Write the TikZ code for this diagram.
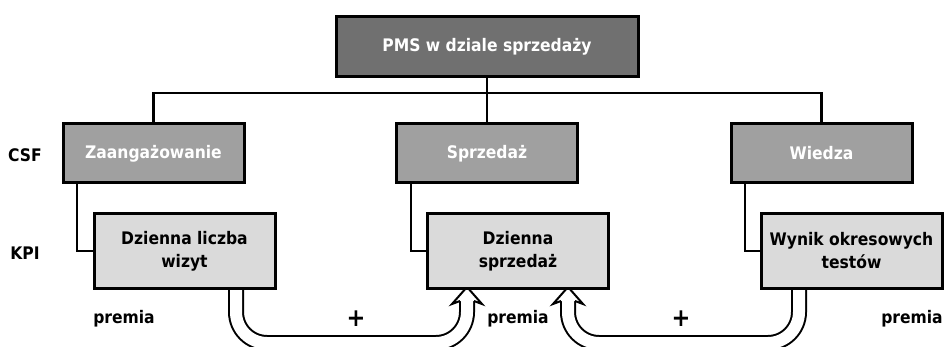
\documentclass[tikz,border=0pt]{standalone}
\usepackage{fontspec}
\setmainfont{DejaVu Sans Condensed}
\usetikzlibrary{calc}
\definecolor{topfill}{HTML}{707070}
\definecolor{csffill}{HTML}{A0A0A0}
\definecolor{kpifill}{HTML}{DADADA}
\tikzset{
  box/.style={draw=black, line width=3pt, minimum width=181pt, align=center,
    font=\fontsize{17.3}{23}\selectfont\bfseries, inner sep=2pt},
  topbox/.style={box, fill=topfill, text=white, minimum width=302pt, minimum height=60pt},
  csfbox/.style={box, fill=csffill, text=white, minimum height=59pt},
  kpibox/.style={box, fill=kpifill, text=black, minimum height=74pt},
  link/.style={line width=2.2pt},
  label/.style={font=\fontsize{17.3}{20}\selectfont\bfseries, inner sep=0pt},
  plus/.style={font=\fontsize{25}{25}\selectfont\bfseries, inner sep=0pt},
  shaftout/.style={line width=16pt, black, rounded corners=31pt},
  shaftin/.style={line width=12pt, white, rounded corners=31pt},
}
% open arrow head (white, outlined) with its tip at #1
\newcommand{\hollowhead}[1]{%
  \fill[white] ($(#1)+(-7,14)$) -- ($(#1)+(-15,17)$) -- (#1) -- ($(#1)+(15,17)$) -- ($(#1)+(7,14)$) -- cycle;
  \draw[line width=2pt, line join=miter] ($(#1)+(-7,14)$) -- ($(#1)+(-15,17)$) -- (#1) -- ($(#1)+(15,17)$) -- ($(#1)+(7,14)$);}
\begin{document}
\begin{tikzpicture}[x=1pt, y=-1pt]
\useasboundingbox (0,0) rectangle (944,347);
\clip (0,0) rectangle (944,347);

% bonus arrows between the KPIs (drawn first, under the boxes)
\coordinate (tipA) at (467,287);
\coordinate (tipB) at (568,287);
\coordinate (startA) at (236,289);
\coordinate (startB) at (799,289);
\draw[shaftout] (startA) -- (236,343) -- (467,343) -- ($(tipA)+(0,14)$);
\draw[shaftin]  (startA) -- (236,343) -- (467,343) -- ($(tipA)+(0,14)$);
\draw[shaftout] (startB) -- (799,343) -- (568,343) -- ($(tipB)+(0,14)$);
\draw[shaftin]  (startB) -- (799,343) -- (568,343) -- ($(tipB)+(0,14)$);
\hollowhead{tipA}
\hollowhead{tipB}

% tree connectors
\coordinate (bus) at (487,93);
\draw[link] (487,78) -- (487,123);
\draw[link] (153.5,123) |- (bus) -| (821.5,123);
\draw[link] (77,184) |- (93,251);
\draw[link] (411,184) |- (427,251);
\draw[link] (745,184) |- (760,251);

% boxes
\node[topbox] (top) at (487,47) {PMS w dziale sprzedaży};
\node[csfbox] (csf1) at (153.5,153.5) {Zaangażowanie};
\node[csfbox] (csf2) at (487,153.5) {Sprzedaż};
\node[csfbox] (csf3) at (821.5,153.5) {Wiedza};
\node[kpibox] (kpi1) at (184.5,251) {Dzienna liczba\\wizyt};
\node[kpibox] (kpi2) at (518,251) {Dzienna\\sprzedaż};
\node[kpibox] (kpi3) at (851.5,251) {Wynik okresowych\\testów};

% row labels and annotations
\node[label] (lcsf) at (25,155) {CSF};
\node[label] (lkpi) at (25,253) {KPI};
\node[label] (p1) at (124,319) {premia};
\node[label] (p2) at (518,319) {premia};
\node[label] (p3) at (912,319) {premia};
\node[plus] (plus1) at (356,319) {+};
\node[plus] (plus2) at (681,319) {+};
\end{tikzpicture}
\end{document}
